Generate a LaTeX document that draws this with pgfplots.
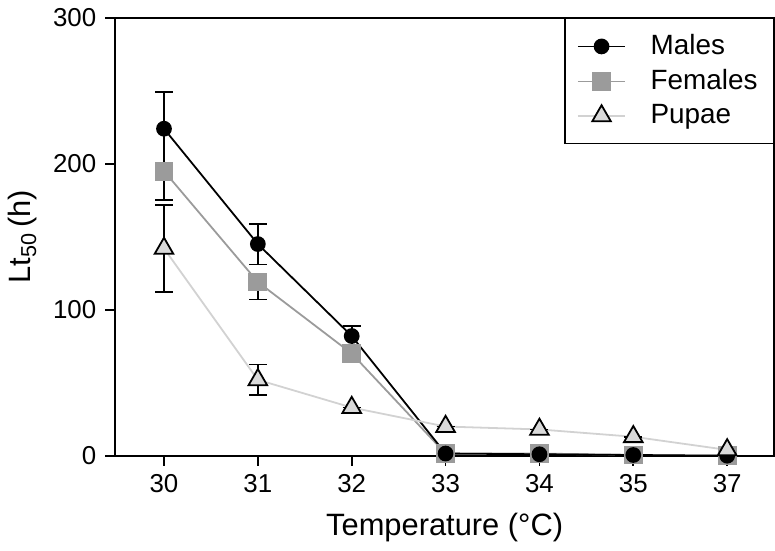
\documentclass[border=0pt]{standalone}
\usepackage{fontspec}
\setmainfont{Liberation Sans}
\usepackage{pgfplots}
\pgfplotsset{compat=1.18}
\definecolor{femgray}{HTML}{9B9B9B}
\definecolor{pupline}{HTML}{D2D2D2}
\definecolor{pupfill}{HTML}{D9D9D9}
\begin{document}
\fontsize{13}{15.6}\selectfont
\begin{tikzpicture}
\begin{axis}[
  scale only axis,
  width=331pt, height=220pt,
  xmin=-0.52, xmax=6.5,
  ymin=0, ymax=300,
  xtick={0,1,2,3,4,5,6},
  xticklabels={30,31,32,33,34,35,37},
  ytick={0,100,200,300},
  tick align=outside,
  major tick length=5pt,
  tick style={black, line width=0.9pt},
  axis line style={line width=0.9pt},
  xtick pos=bottom, ytick pos=left,
  /pgf/number format/assume math mode=true,
  ticklabel style={font=\fontsize{13}{15.6}\selectfont},
  xlabel={Temperature (°C)},
  ylabel={Lt\textsubscript{50}\,(h)},
  label style={font=\fontsize{15.5}{18}\selectfont},
  ylabel style={yshift=-1pt},
  xlabel style={yshift=-1pt},
  legend style={at={(1,1)}, anchor=north east, draw=black, line width=0.7pt,
    font=\fontsize{14}{16.8}\selectfont, row sep=1.5pt, inner xsep=6pt, inner ysep=6pt},
  legend cell align=left,
  legend image code/.code={%
    \draw[mark repeat=2,mark phase=2] plot coordinates {(0cm,0cm) (0.42cm,0cm) (0.84cm,0cm)};
    \path (1.2cm,0cm);},
  error bars/error bar style={black, line width=0.9pt},
  error bars/error mark options={rotate=90, mark size=4.5pt, black, line width=0.9pt},
]
\addlegendimage{black, line width=0.9pt, mark=*, mark size=3.5pt, mark options={fill=black}}
\addlegendentry{Males}
\addlegendimage{femgray, line width=0.9pt, mark=square*, mark size=4.3pt, mark options={fill=femgray, draw=femgray}}
\addlegendentry{Females}
\addlegendimage{pupline, line width=0.9pt, mark=triangle*, mark size=5.4pt, mark options={fill=pupfill, draw=black, line width=0.9pt}}
\addlegendentry{Pupae}

% Females
\addplot+[forget plot, femgray, line width=0.9pt, mark=square*, mark size=4.3pt,
  mark options={fill=femgray, draw=femgray},
  error bars/.cd, y dir=minus, y explicit]
  coordinates {
  (0,195) +- (0,20)
  (1,119) +- (0,12)
  (2,70) +- (0,6)
  (3,1.5) +- (0,0)
  (4,1.5) +- (0,0)
  (5,0.5) +- (0,0)
  (6,0) +- (0,0)
  };
% Males
\addplot+[forget plot, black, line width=0.9pt, mark=*, mark size=3.5pt,
  mark options={fill=black, draw=black},
  error bars/.cd, y dir=both, y explicit]
  coordinates {
  (0,224) +- (0,25)
  (1,145) +- (0,14)
  (2,82) +- (0,7)
  (3,1.5) +- (0,0)
  (4,1) +- (0,0)
  (5,0.5) +- (0,0)
  (6,0) +- (0,0)
  };
% Pupae
\addplot+[forget plot, pupline, line width=0.9pt, mark=triangle*, mark size=5.4pt,
  mark options={fill=pupfill, draw=black, line width=0.9pt},
  error bars/.cd, y dir=both, y explicit]
  coordinates {
  (0,142) +- (0,30)
  (1,52) +- (0,10.5)
  (2,33) +- (0,0)
  (3,20) +- (0,0)
  (4,18) +- (0,0)
  (5,13) +- (0,0)
  (6,4) +- (0,0)
  };
\end{axis}
\end{tikzpicture}
\end{document}
